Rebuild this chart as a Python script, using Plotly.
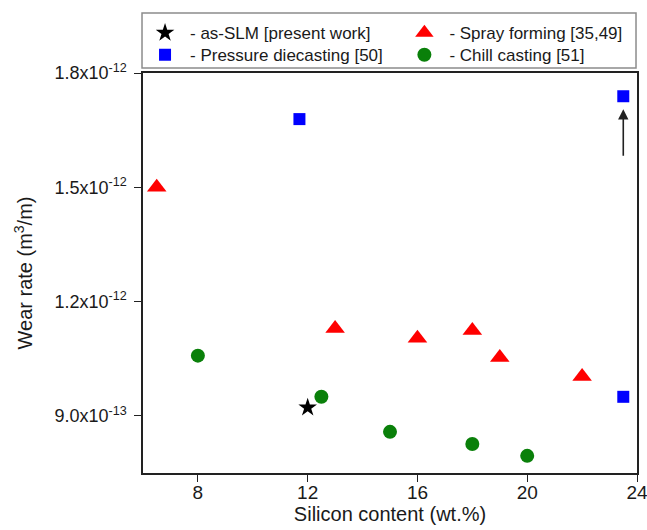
import plotly.graph_objects as go

# Data
slm_si = [12.0]
slm_wear = [0.922e-12]

spray_si = [6.5, 13.0, 16.0, 18.0, 19.0, 22.0]
spray_wear = [1.50e-12, 1.129e-12, 1.104e-12, 1.124e-12, 1.053e-12, 1.003e-12]

pdc_si = [11.7, 23.5, 23.5]
pdc_wear = [1.679e-12, 1.739e-12, 0.95e-12]

chill_si = [8.0, 12.5, 15.0, 18.0, 20.0]
chill_wear = [1.058e-12, 0.95e-12, 0.858e-12, 0.826e-12, 0.795e-12]

x_ticks = [8, 12, 16, 20, 24]
y_ticks = [0.9e-12, 1.2e-12, 1.5e-12, 1.8e-12]
y_ticktext = ["9.0x10<sup>-13</sup>", "1.2x10<sup>-12</sup>",
              "1.5x10<sup>-12</sup>", "1.8x10<sup>-12</sup>"]

arrow_x = 23.5
arrow_tail = 1.579e-12
arrow_head = 1.705e-12

FONT = "Liberation Sans, Arial, sans-serif"
TXT = "#1a1a1a"

fig = go.Figure()
fig.add_trace(go.Scatter(x=slm_si, y=slm_wear, mode="markers",
                         name="- as-SLM [present work]", legend="legend",
                         marker=dict(symbol="star", size=14, color="black")))
fig.add_trace(go.Scatter(x=spray_si, y=spray_wear, mode="markers",
                         name="- Spray forming [35,49]", legend="legend2",
                         marker=dict(symbol="triangle-up", size=17, color="#ff0000")))
fig.add_trace(go.Scatter(x=pdc_si, y=pdc_wear, mode="markers",
                         name="- Pressure diecasting [50]", legend="legend3",
                         marker=dict(symbol="square", size=12, color="#0000ff")))
fig.add_trace(go.Scatter(x=chill_si, y=chill_wear, mode="markers",
                         name="- Chill casting [51]", legend="legend4",
                         marker=dict(symbol="circle", size=14, color="#0a800a")))

fig.add_annotation(x=arrow_x, y=arrow_head, ax=arrow_x, ay=arrow_tail,
                   xref="x", yref="y", axref="x", ayref="y",
                   showarrow=True, arrowhead=2, arrowsize=1.3, arrowwidth=1.6,
                   arrowcolor="#222", text="")

# legend frame
fig.add_shape(type="rect", xref="paper", yref="paper",
              x0=-0.002, x1=0.998, y0=1.0125, y1=1.15,
              line=dict(color="#8c8c8c", width=1.5), fillcolor="rgba(0,0,0,0)")

leg_common = dict(orientation="v", yanchor="top", xanchor="left",
                  bgcolor="rgba(0,0,0,0)", borderwidth=0, itemwidth=40,
                  font=dict(size=17, family=FONT, color=TXT))

col1_x, col2_x = -0.006, 0.519
row1_y, row2_y = 1.1445, 1.0895

fig.update_layout(
    width=647, height=530,
    margin=dict(l=143, r=10, t=73, b=57, autoexpand=False),
    paper_bgcolor="white", plot_bgcolor="white",
    font=dict(family=FONT, color=TXT, size=18),
    showlegend=True,
    legend=dict(x=col1_x, y=row1_y, **leg_common),
    legend2=dict(x=col2_x, y=row1_y, **leg_common),
    legend3=dict(x=col1_x, y=row2_y, **leg_common),
    legend4=dict(x=col2_x, y=row2_y, **leg_common),
    xaxis=dict(range=[6, 24], tickvals=x_ticks, ticks="outside", ticklen=7,
               tickwidth=1.2, tickcolor="#222", automargin=False,
               ticklabelstandoff=-6, ticklabeloverflow="allow",
               showline=True, linecolor="#222", linewidth=1.5, mirror=True,
               showgrid=False, zeroline=False,
               tickfont=dict(size=19),
               title=dict(text="Silicon content (wt.%)", font=dict(size=20), standoff=4)),
    yaxis=dict(range=[0.75e-12, 1.8e-12], tickvals=y_ticks, ticktext=y_ticktext,
               ticks="outside", ticklen=7, tickwidth=1.2, tickcolor="#222",
               automargin=False, ticklabelstandoff=4, ticklabeloverflow="allow",
               showline=True, linecolor="#222", linewidth=1.5, mirror=True,
               showgrid=False, zeroline=False,
               tickfont=dict(size=18),
               title=dict(text="Wear rate (m<sup>3</sup>/m)", font=dict(size=20), standoff=16)),
)

fig.write_html("out.html", config={"displayModeBar": False},
               post_script="document.body.style.margin='0';document.body.style.overflow='hidden';")
